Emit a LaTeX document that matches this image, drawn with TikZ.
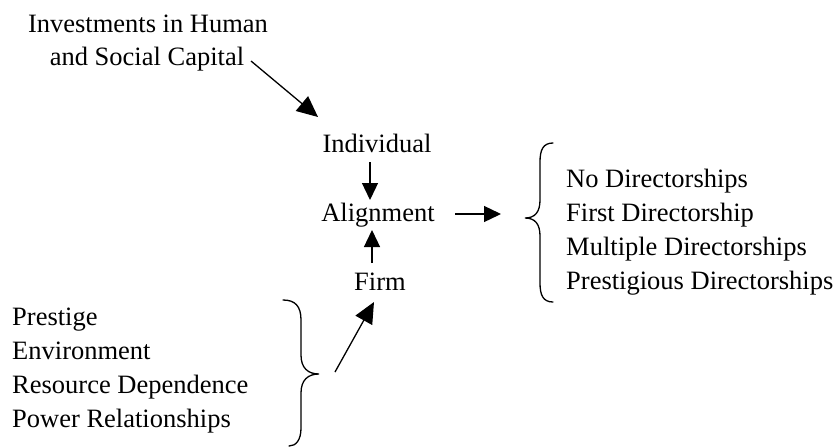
\documentclass[tikz,border=0pt]{standalone}
\usepackage{fontspec}
\setmainfont{Liberation Serif}
\usetikzlibrary{arrows.meta}
\tikzset{
  lbl/.style={inner sep=0pt, font=\fontsize{26.5}{34}\selectfont},
  arr/.style={-{Triangle[length=17pt,width=16pt]}, line width=1.3pt},
  bigarr/.style={-{Triangle[length=21pt,width=19pt]}, line width=1.3pt},
  brace/.style={line width=1.3pt, line cap=round}
}
\begin{document}
\begin{tikzpicture}[x=1pt,y=-1pt]
\useasboundingbox[fill=white] (0,0) rectangle (837,447);
% text nodes
\node[lbl, anchor=base] (inv1) at (148,32) {Investments in Human};
\node[lbl, anchor=base] (inv2) at (147,65) {and Social Capital};
\node[lbl, anchor=base] (ind) at (377,152) {Individual};
\node[lbl, anchor=base] (ali) at (378,221) {Alignment};
\node[lbl, anchor=base] (firm) at (380,290) {Firm};
% right list
\node[lbl, anchor=base west] (r1) at (566,187) {No Directorships};
\node[lbl, anchor=base west] (r2) at (566,221) {First Directorship};
\node[lbl, anchor=base west] (r3) at (566,255) {Multiple Directorships};
\node[lbl, anchor=base west] (r4) at (566,289) {Prestigious Directorships};
% left list
\node[lbl, anchor=base west] (l1) at (12,325) {Prestige};
\node[lbl, anchor=base west] (l2) at (12,359) {Environment};
\node[lbl, anchor=base west] (l3) at (12,393) {Resource Dependence};
\node[lbl, anchor=base west] (l4) at (12,427) {Power Relationships};
% connector end points
\coordinate (a1s) at (251,61);
\coordinate (a1e) at (318,117);
\coordinate (a2s) at (370,162);
\coordinate (a2e) at (370,200);
\coordinate (a3s) at (372,263);
\coordinate (a3e) at (372,230);
\coordinate (a4s) at (455,214);
\coordinate (a4e) at (501,214);
\coordinate (a5s) at (335,372);
\coordinate (a5e) at (374,302);
% arrows
\draw[bigarr] (a1s) -- (a1e);
\draw[arr] (a2s) -- (a2e);
\draw[arr] (a3s) -- (a3e);
\draw[arr] (a4s) -- (a4e);
\draw[bigarr] (a5s) -- (a5e);
% right-hand brace {
\coordinate (rbT) at (553,143);
\coordinate (rbM) at (525,218);
\coordinate (rbB) at (553,302);
\draw[brace] (rbT) .. controls (543,143) and (540,150) .. (540,162)
  -- (540,200) .. controls (540,212) and (535,218) .. (rbM)
  .. controls (535,218) and (540,224) .. (540,236)
  -- (540,283) .. controls (540,295) and (543,302) .. (rbB);
% left-hand brace }
\coordinate (lbT) at (283,300);
\coordinate (lbM) at (319,374);
\coordinate (lbB) at (289,446);
\draw[brace] (lbT) .. controls (295,300) and (301,306) .. (301,320)
  -- (301,355) .. controls (301,368) and (308,374) .. (lbM)
  .. controls (308,374) and (301,380) .. (301,393)
  -- (301,428) .. controls (301,440) and (296,446) .. (lbB);
\end{tikzpicture}
\end{document}
